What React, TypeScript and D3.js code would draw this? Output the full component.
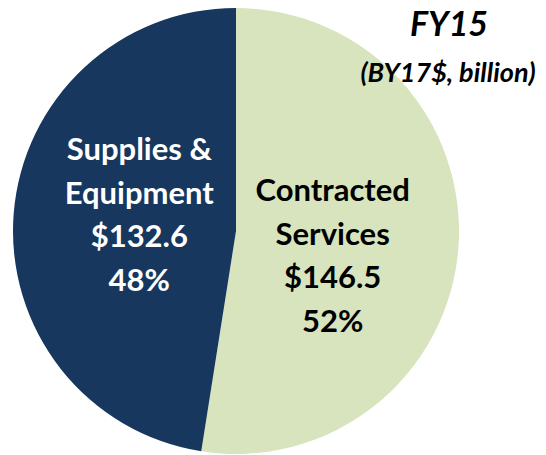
import { arc, pie } from "d3";
import type { PieArcDatum } from "d3";
import type { ReactElement } from "react";

const categories = ["Contracted Services", "Supplies & Equipment"];
const labelLines = [
  ["Contracted", "Services"],
  ["Supplies &", "Equipment"],
];
const values = [146.5, 132.6];
const title = "FY15";
const subtitle = "(BY17$, billion)";

const WIDTH = 546;
const HEIGHT = 455;
const CX = 236;
const CY = 231;
const R = 223;
const LABEL_R = 97;
const LINE_H = 43.7;
const FONT = "Lato, 'DejaVu Sans', sans-serif";

const fills = ["#d7e4bd", "#17375e"];
const textFills = ["#000000", "#ffffff"];
// nudge of each label block from the slice centroid (PowerPoint-ish placement)
const labelDy = [28, 2];

type Slice = { name: string; value: number; idx: number };

export default function App(): ReactElement {
  const total = values.reduce((s, v) => s + v, 0);
  const data: Slice[] = categories.map((name, idx) => ({ name, value: values[idx], idx }));
  const arcs = pie<Slice>()
    .sort(null)
    .value((d) => d.value)(data);

  const slicePath = arc<PieArcDatum<Slice>>().innerRadius(0).outerRadius(R);
  const labelArc = arc<PieArcDatum<Slice>>().innerRadius(LABEL_R).outerRadius(LABEL_R);

  return (
    <svg
      width={WIDTH}
      height={HEIGHT}
      viewBox={`0 0 ${WIDTH} ${HEIGHT}`}
      style={{ position: "absolute", left: 0, top: 0, background: "#fff" }}
    >
      <g transform={`translate(${CX},${CY})`}>
        {arcs.map((a) => (
          <path key={a.data.name} d={slicePath(a) ?? ""} fill={fills[a.data.idx]} />
        ))}
        {arcs.map((a) => {
          const [lx, ly] = labelArc.centroid(a);
          const i = a.data.idx;
          const lines = [
            ...labelLines[i],
            `$${a.data.value.toFixed(1)}`,
            `${Math.round((a.data.value / total) * 100)}%`,
          ];
          const firstBaseline = ly + labelDy[i] - ((lines.length - 1) * LINE_H) / 2;
          return (
            <text
              key={`lbl-${a.data.name}`}
              textAnchor="middle"
              fontFamily={FONT}
              fontWeight="700"
              fontSize={31}
              fill={textFills[i]}
            >
              {lines.map((t, li) => (
                <tspan key={li} x={lx} y={firstBaseline + li * LINE_H}>
                  {t}
                </tspan>
              ))}
            </text>
          );
        })}
      </g>
      <text
        x={449}
        y={36}
        textAnchor="middle"
        fontFamily={FONT}
        fontWeight="700"
        fontStyle="italic"
        fontSize={34}
        fill="#000"
      >
        {title}
      </text>
      <text
        x={448}
        y={82}
        textAnchor="middle"
        fontFamily={FONT}
        fontWeight="700"
        fontStyle="italic"
        fontSize={27}
        fill="#000"
      >
        {subtitle}
      </text>
    </svg>
  );
}
